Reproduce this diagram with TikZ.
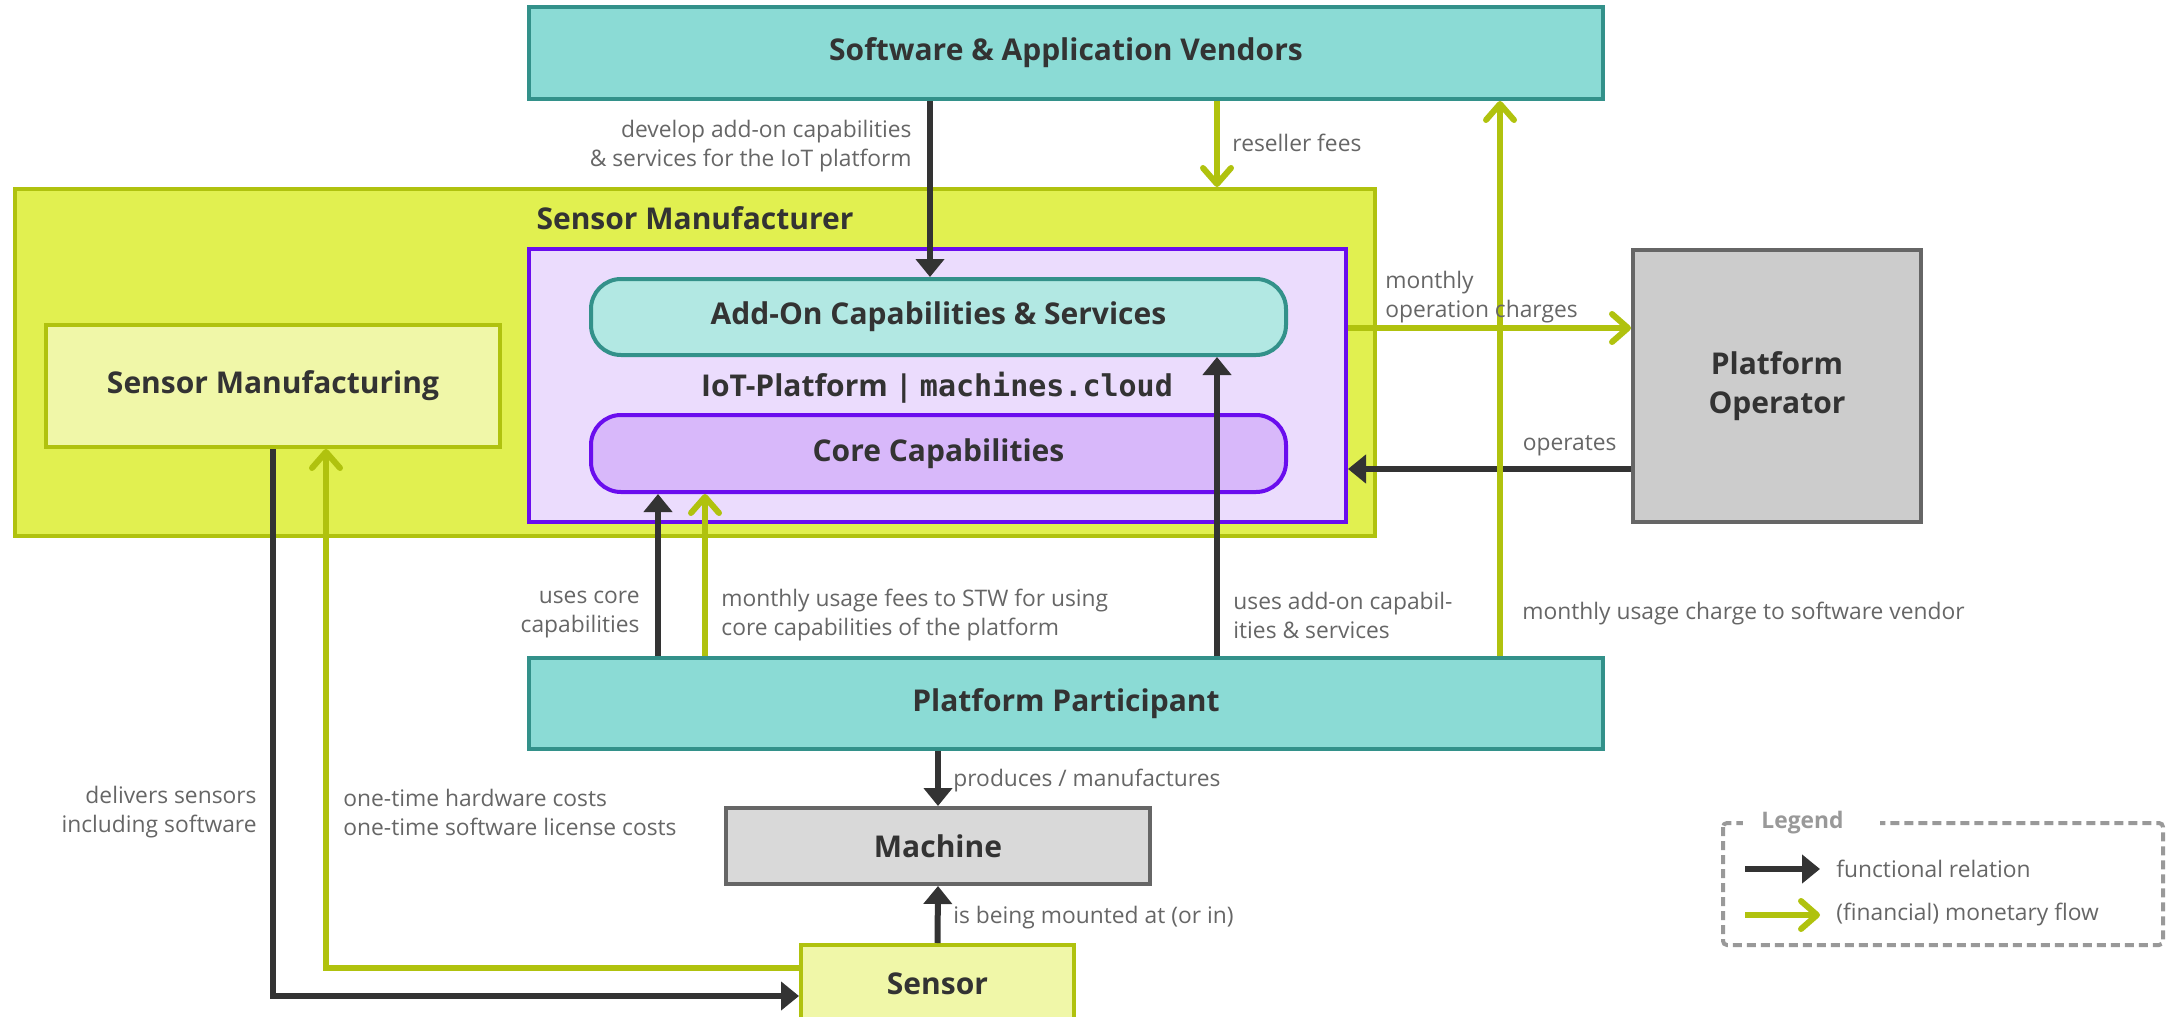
\documentclass[tikz,border=0pt]{standalone}
\usepackage{fontspec}
\setmainfont{Open Sans}
\newfontfamily\codefont{DejaVu Sans Mono}
\usetikzlibrary{arrows.meta,positioning}
\definecolor{tealfill}{HTML}{8BDBD5}
\definecolor{tealline}{HTML}{33918A}
\definecolor{addonfill}{HTML}{B2E8E3}
\definecolor{makerfill}{HTML}{E1F050}
\definecolor{greenline}{HTML}{B0C20E}
\definecolor{palefill}{HTML}{F0F7A8}
\definecolor{violetline}{HTML}{6A0DEE}
\definecolor{iotfill}{HTML}{EBDCFD}
\definecolor{corefill}{HTML}{D8B8FA}
\definecolor{grayfill}{HTML}{CCCCCC}
\definecolor{machinefill}{HTML}{D9D9D9}
\definecolor{grayline}{HTML}{666666}
\definecolor{darktext}{HTML}{333333}
\definecolor{labeltext}{HTML}{666666}
\definecolor{legendgray}{HTML}{999999}
\newcommand{\titlefont}{\fontsize{15}{19.5}\selectfont\bfseries}
\newcommand{\labelfont}{\fontsize{11.4}{14.5}\selectfont}

\begin{document}
\begin{tikzpicture}[x=0.5pt, y=-0.5pt,
    actor/.style={rectangle, draw=tealline, fill=tealfill, line width=2pt, font=\titlefont, text=darktext},
    maker/.style={rectangle, draw=greenline, line width=2pt, font=\titlefont, text=darktext},
    platform/.style={rectangle, draw=violetline, fill=iotfill, line width=2pt},
    capab/.style={rectangle, rounded corners=15pt, line width=2pt, font=\titlefont, text=darktext},
    thing/.style={rectangle, draw=grayline, line width=2pt, font=\titlefont, text=darktext},
    func/.style={draw=darktext, line width=3pt, -{Triangle[length=9pt,width=14pt]}},
    money/.style={draw=greenline, line width=3pt, -{Straight Barb[length=8pt,width=14pt,round]}},
    lbl/.style={font=\labelfont, text=labeltext, inner sep=0pt}
]
    \useasboundingbox (0,0) rectangle (2176,1017);

    % Actors
    \node[actor, minimum width=537pt, minimum height=46pt] (sav) at (1066,53) {Software \& Application Vendors};
    \node[actor, minimum width=537pt, minimum height=45.5pt] (pp) at (1066,703.5) {Platform Participant};
    \node[thing, fill=grayfill, minimum width=144pt, minimum height=136pt, align=center] (po) at (1777,386) {Platform\\Operator};

    % Sensor manufacturer with the platform inside
    \node[maker, fill=makerfill, minimum width=680pt, minimum height=173.5pt] (sm) at (695,362.5) {};
    \node[font=\titlefont, text=darktext] (smtitle) at (695,218) {Sensor Manufacturer};
    \node[maker, fill=palefill, minimum width=227pt, minimum height=61pt] (smfg) at (273,386) {Sensor Manufacturing};
    \node[platform, minimum width=408.5pt, minimum height=136.5pt] (iot) at (937.5,385.5) {};
    \node[capab, draw=tealline, fill=addonfill, minimum width=347.5pt, minimum height=38pt] (addon) at (938.5,317) {Add-On Capabilities \& Services};
    \node[capab, draw=violetline, fill=corefill, minimum width=347.5pt, minimum height=38.5pt] (core) at (938.5,453.5) {Core Capabilities};
    \node[font=\titlefont, text=darktext] (iottitle) at (937,388) {IoT-Platform | {\codefont\bfseries machines.cloud}};

    % Machine and sensor
    \node[thing, fill=machinefill, minimum width=212pt, minimum height=38pt] (machine) at (938,846) {Machine};
    \node[maker, fill=palefill, minimum width=136.5pt, minimum height=38.5pt] (sensor) at (937.5,983.5) {Sensor};

    % Connections
    \draw[func] ([xshift=-68pt]sav.south) -- ([xshift=-68pt]sav.south |- addon.north);
    \draw[money] ([xshift=75.5pt]sav.south) -- ([xshift=75.5pt]sav.south |- sm.north);
    \draw[money] ([yshift=28.75pt]iot.east) -- ([yshift=28.75pt]iot.east -| po.west);
    \draw[func] ([yshift=-41.5pt]po.west) -- ([yshift=-41.5pt]po.west -| iot.east);
    \draw[func] ([xshift=-204pt]pp.north) -- ([xshift=-204pt]pp.north |- core.south);
    \draw[money] ([xshift=-180.5pt]pp.north) -- ([xshift=-180.5pt]pp.north |- core.south);
    \draw[func] ([xshift=75.5pt]pp.north) -- ([xshift=75.5pt]pp.north |- addon.south);
    \draw[func] (machine.north |- pp.south) -- (machine.north);
    \draw[func] (sensor.north) -- (machine.south);
    \draw[money] ([yshift=7.75pt]sensor.west) -| ([xshift=26.5pt]smfg.south);
    \draw[func] (smfg.south) |- ([yshift=-6.25pt]sensor.west);
    \draw[money] ([xshift=217pt]pp.north) -- ([xshift=217pt]pp.north |- sav.south);

    % Labels
    \node[lbl, anchor=east, align=right] (ldevelop) at (912,146) {develop add-on capabilities\\\& services for the IoT platform};
    \node[lbl, anchor=west] (lreseller) at (1232,143) {reseller fees};
    \node[lbl, anchor=west, align=left] (lopcharge) at (1385,297) {monthly\\operation charges};
    \node[lbl, anchor=east] (loperates) at (1617,446) {operates};
    \node[lbl, anchor=east, align=right] (lusescore) at (640,615) {uses core\\capabilities};
    \node[lbl, anchor=west, align=left] (lusagefees) at (721,615) {monthly usage fees to STW for using\\core capabilities of the platform};
    \node[lbl, anchor=west, align=left] (lusesaddon) at (1233,615) {uses add-on capabil-\\ities \& services};
    \node[lbl, anchor=west] (lvendor) at (1522,614) {monthly usage charge to software vendor};
    \node[lbl, anchor=west] (lproduces) at (953,781) {produces / manufactures};
    \node[lbl, anchor=west] (lmounted) at (953,918) {is being mounted at (or in)};
    \node[lbl, anchor=east, align=right] (ldelivers) at (257,812) {delivers sensors\\including software};
    \node[lbl, anchor=west, align=left] (lonetime) at (343,812) {one-time hardware costs\\one-time software license costs};

    % Legend
    \draw[legendgray, line width=2pt, dash pattern=on 4.5pt off 2.5pt, rounded corners=2pt] (1723,823) rectangle (2163,945);
    \node[fill=white, anchor=west, inner xsep=9pt, inner ysep=1pt, text width=50.5pt, align=left,
          font=\labelfont\bfseries, text=legendgray] (legtitle) at (1743,823) {Legend};
    \coordinate (fa) at (1745,869);
    \coordinate (fb) at (1820,869);
    \coordinate (ma) at (1745,915);
    \coordinate (mb) at (1820,915);
    \draw[func] (fa) -- (fb);
    \draw[money] (ma) -- (mb);
    \node[lbl, anchor=west] (lfunc) at (1836,869) {functional relation};
    \node[lbl, anchor=west] (lmoney) at (1836,915) {(financial) monetary flow};
\end{tikzpicture}
\end{document}
